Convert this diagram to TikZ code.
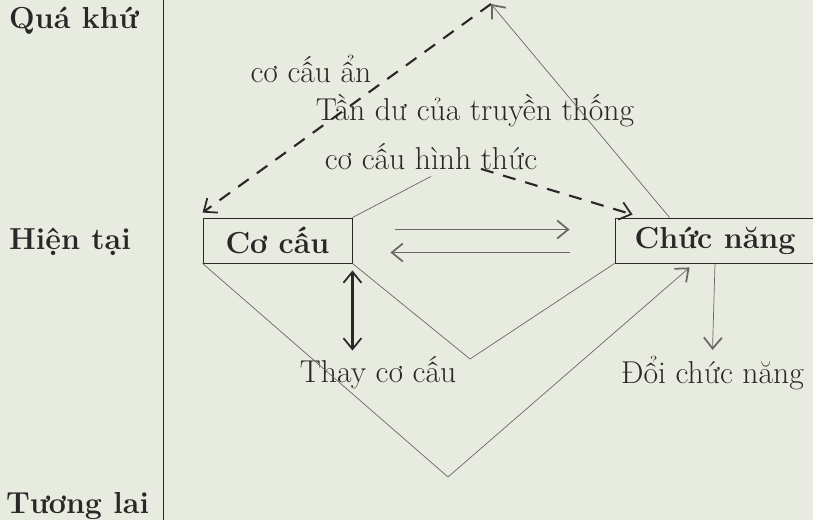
\documentclass[tikz,border=0pt]{standalone}
\usepackage{fontspec}
\usetikzlibrary{arrows.meta}
\definecolor{paper}{RGB}{232,235,224}
\definecolor{ink}{RGB}{40,40,40}
\tikzset{
	>={Straight Barb[length=2.2mm,width=3.6mm,line width=1pt]},
	box/.style={draw=ink, line width=0.5pt, minimum height=0.9cm, text=ink, font=\LARGE\bfseries},
	lbl/.style={text=ink, font=\fontsize{18}{22}\selectfont},
	side/.style={text=ink, font=\LARGE\bfseries, anchor=west},
	thinline/.style={draw=ink!70, line width=0.4pt},
	dashline/.style={draw=ink, line width=1.2pt, dash pattern=on 0.26cm off 0.2cm},
}

\begin{document}
\begin{tikzpicture}
			% Paper and time axis
			\fill[paper] (0,0) rectangle (16.26,-10.4);
			\useasboundingbox (0,0) rectangle (16.26,-10.4);
			\draw[ink, line width=0.5pt] (3.26,0) -- (3.26,-10.4);
			
			% Time labels
			\node (qua) at (0.06,-0.42) [side] {Quá khứ};
			\node (hien) at (0.06,-4.84) [side] {Hiện tại};
			\node (tuong) at (0.0,-10.12) [side] {Tương lai};
			
			% Boxes
			\node (coCau) at (5.55,-4.81) [box, minimum width=2.98cm] {Cơ cấu};
			\node (chucNang) at (14.3,-4.81) [box, minimum width=4cm] {Chức năng};
			\coordinate (apex) at (9.82,-0.08);
			
			% Labels
			\node (an) at (6.22,-1.38) [lbl] {cơ cấu ẩn};
			\node (tanDu) at (9.5,-2.22) [lbl] {Tần dư của truyền thống};
			\node (hinhThuc) at (8.62,-3.14) [lbl] {cơ cấu hình thức};
			\node (thay) at (7.56,-7.46) [lbl] {Thay cơ cấu};
			\node (doi) at (14.25,-7.46) [lbl] {Đổi chức năng};
			
			% Past
			\draw[dashline, ->] (apex) -- ([yshift=0.1cm]coCau.north west);
			\draw[thinline, ->] ([xshift=1.1cm]chucNang.north west) -- (apex);
			\draw[thinline] (coCau.north east) -- (hinhThuc.south);
			\draw[dashline, ->] ([xshift=1cm,yshift=0.15cm]hinhThuc.south) -- ([xshift=0.36cm,yshift=0.06cm]chucNang.north west);
			
			% Present
			\draw[thinline, ->] ([xshift=0.86cm,yshift=0.22cm]coCau.east) -- ([xshift=-0.9cm,yshift=0.22cm]chucNang.west);
			\draw[thinline, ->] ([xshift=-0.9cm,yshift=-0.24cm]chucNang.west) -- ([xshift=0.76cm,yshift=-0.24cm]coCau.east);
			\draw[ink, line width=1.3pt, <->] ([yshift=-0.14cm]coCau.south east) -- (coCau.south east |- thay.north);
			\draw[thinline, ->] (chucNang.south) -- (doi.north);
			
			% Future
			\draw[thinline] (coCau.south east) -- (9.4,-7.18) -- (chucNang.south west);
			\draw[thinline, ->] (coCau.south west) -- (8.96,-9.54) -- ([xshift=1.5cm,yshift=-0.08cm]chucNang.south west);
		\end{tikzpicture}
\end{document}
